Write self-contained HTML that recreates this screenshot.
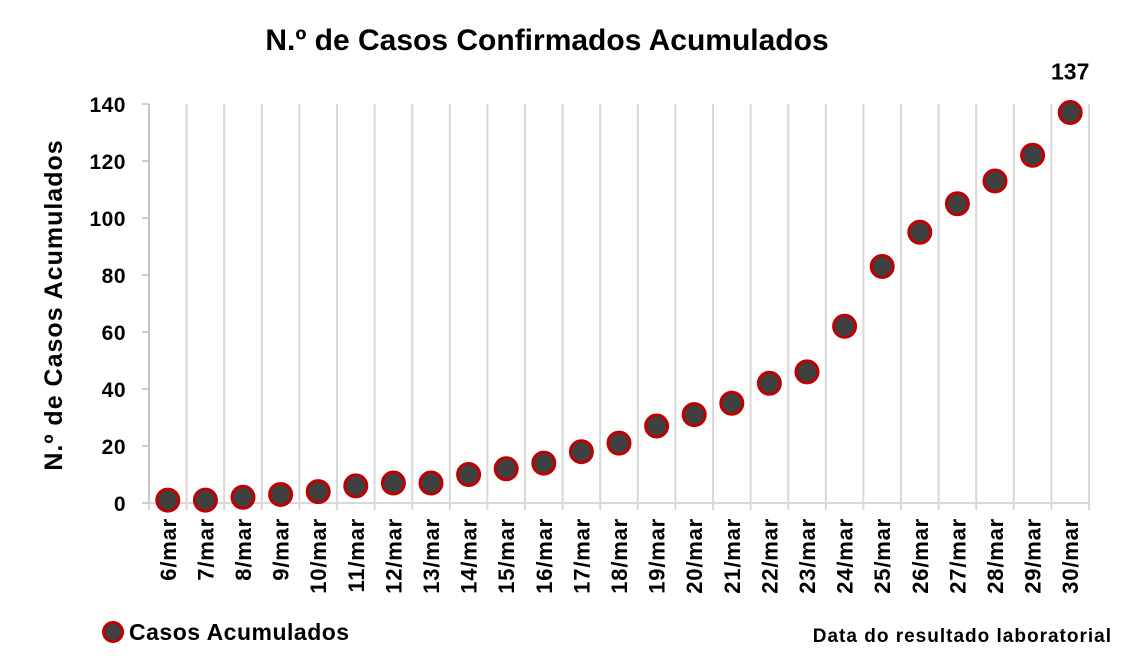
<!DOCTYPE html>
<html><head><meta charset="utf-8"><style>
body{margin:0;background:#fff;}
svg text{font-family:"Liberation Sans",sans-serif;font-weight:bold;fill:#000;}
</style></head><body>
<svg width="1121" height="656">
<text x="547" y="50" font-size="30" text-anchor="middle">N.º de Casos Confirmados Acumulados</text>
<text transform="translate(62,305) rotate(-90)" font-size="25" letter-spacing="1" text-anchor="middle">N.º de Casos Acumulados</text>
<g id="grid"></g><g id="axes"></g><g id="marks"></g>
<circle cx="113" cy="632" r="9.5" fill="#404040" stroke="#c00000" stroke-width="3"/>
<text x="129" y="640" font-size="23" letter-spacing="0.5">Casos Acumulados</text>
<text x="1112" y="642" font-size="19" letter-spacing="1" text-anchor="end">Data do resultado laboratorial</text>
</svg>
<script>
const categories=["6/mar","7/mar","8/mar","9/mar","10/mar","11/mar","12/mar","13/mar","14/mar","15/mar","16/mar","17/mar","18/mar","19/mar","20/mar","21/mar","22/mar","23/mar","24/mar","25/mar","26/mar","27/mar","28/mar","29/mar","30/mar"];
const values=[1,1,2,3,4,6,7,7,10,12,14,18,21,27,31,35,42,46,62,83,95,105,113,122,137];
const yTicks=[0,20,40,60,80,100,120,140];
const NS="http://www.w3.org/2000/svg";
const x0=149,x1=1089,y0=503,y1=104,yMax=140;
const band=(x1-x0)/categories.length;
const X=i=>x0+band*(i+0.5);
const Y=v=>y0-(v/yMax)*(y0-y1);
function mk(t,a,p){const e=document.createElementNS(NS,t);for(const k in a)e.setAttribute(k,a[k]);document.getElementById(p).appendChild(e);return e;}
for(let i=0;i<=categories.length;i++){
 const l=mk("line",{x1:x0+band*i,x2:x0+band*i,y1:y1,y2:y0+7,stroke:"#d9d9d9","stroke-width":2},"grid");
 
 
}
const ax=mk("line",{x1:x0,x2:x0,y1:y1,y2:y0,stroke:"#bfbfbf","stroke-width":1.5},"axes");


const bx=mk("line",{x1:x0,x2:x1,y1:y0,y2:y0,stroke:"#d9d9d9","stroke-width":2},"axes");


yTicks.forEach(v=>{
 const t=mk("line",{x1:x0-7,x2:x0,y1:Y(v),y2:Y(v),stroke:"#bfbfbf","stroke-width":1.5},"axes");
 
 
 const tx=mk("text",{x:x0-23,y:Y(v)+8,"font-size":21,"letter-spacing":0.5,"text-anchor":"end"},"axes");
 tx.textContent=v;
 
 
});
categories.forEach((c,i)=>{
 const tx=mk("text",{transform:`translate(${X(i)+8},518) rotate(-90)`,"font-size":22,"letter-spacing":0.8,"text-anchor":"end"},"axes");
 tx.textContent=c;
 
 
});
values.forEach((v,i)=>{
 const c=mk("circle",{cx:X(i),cy:Y(v),r:11,fill:"#404040",stroke:"#c00000","stroke-width":3},"marks");
 
 
});
const li=values.length-1;
const lbl=mk("text",{x:X(li),y:Y(values[li])-33,"font-size":23,"text-anchor":"middle"},"marks");
lbl.textContent=values[li];


</script>
</body></html>
